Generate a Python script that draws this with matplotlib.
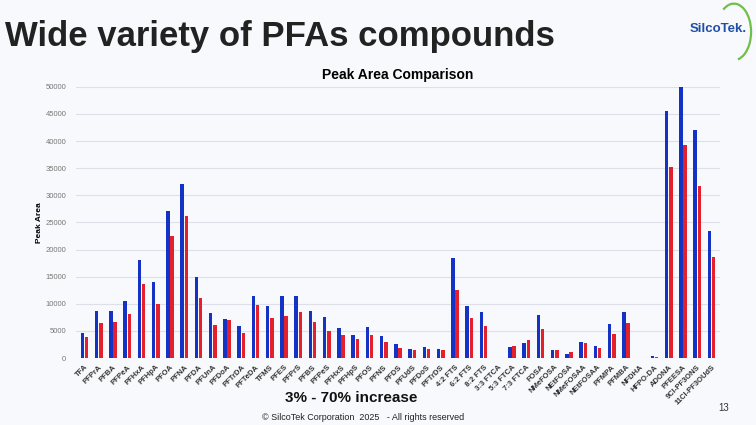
import matplotlib
matplotlib.use("Agg")
import matplotlib.pyplot as plt
import numpy as np
from matplotlib.patches import Arc

plt.rcParams["font.family"] = ["Liberation Sans", "DejaVu Sans"]

compounds = ["TFA", "PFPrA", "PFBA", "PFPeA", "PFHxA", "PFHpA", "PFOA", "PFNA", "PFDA",
             "PFUnA", "PFDoA", "PFTrDA", "PFTeDA", "TFMS", "PFES", "PFPrS", "PFBS", "PFPeS",
             "PFHxS", "PFHpS", "PFOS", "PFNS", "PFDS", "PFUdS", "PFDoS", "PFTrDS",
             "4:2 FTS", "6:2 FTS", "8:2 FTS", "3:3 FTCA", "5:3 FTCA", "7:3 FTCA", "FOSA",
             "NMeFOSA", "NEtFOSA", "NMeFOSAA", "NEtFOSAA", "PFMPA", "PFMBA", "NFDHA",
             "HFPO-DA", "ADONA", "PFEESA", "9Cl-PF3ONS", "11Cl-PF3OUdS"]
blue_vals = [4700, 8600, 8600, 10600, 18000, 14000, 27200, 32100, 15000,
             8300, 7200, 5900, 11400, 9600, 11400, 11400, 8600, 7500,
             5600, 4200, 5700, 4000, 2500, 1600, 2000, 1600,
             18400, 9600, 8400, 50, 2000, 2700, 7900,
             1400, 800, 2900, 2200, 6200, 8500, 30,
             400, 45500, 50000, 42100, 23500]
red_vals = [3900, 6400, 6600, 8200, 13700, 10000, 22500, 26200, 11100,
            6100, 7000, 4700, 9800, 7300, 7800, 8400, 6600, 5000,
            4300, 3500, 4300, 2900, 1900, 1400, 1700, 1500,
            12500, 7300, 5900, 30, 2300, 3300, 5400,
            1500, 1200, 2700, 1800, 4400, 6500, 20,
            200, 35300, 39200, 31700, 18700]
yticks = [0, 5000, 10000, 15000, 20000, 25000, 30000, 35000, 40000, 45000, 50000]

bg = "#f8f9fc"
fig = plt.figure(figsize=(7.56, 4.25), dpi=100, facecolor=bg)

# slide title
fig.text(0.006, 0.915, "Wide variety of PFAs compounds", fontsize=25, fontweight="bold",
         color="#222222", va="center", ha="left")

# logo (rough)
logo_ax = fig.add_axes([0.935, 0.855, 0.065, 0.14])
logo_ax.axis("off")
logo_ax.set_xlim(0, 1)
logo_ax.set_ylim(0, 1)
logo_ax.add_patch(Arc((0.55, 0.5), 0.7, 0.95, theta1=-80, theta2=120, color="#6fbf4a", lw=1.6))
fig.text(0.912, 0.932, "SilcoTek.", fontsize=9.5, fontweight="bold", color="#1f4fa8",
         va="center", ha="left")

ax = fig.add_axes([0.1005, 0.1576, 0.852, 0.638], facecolor=bg)
x = np.arange(len(compounds))
w = 0.24
ax.bar(x - 0.15, blue_vals, width=w, color="#1432c4", zorder=3)
ax.bar(x + 0.15, red_vals, width=w, color="#e3202c", zorder=3)

ax.set_xlim(-0.6, len(compounds) - 0.4)
ax.set_ylim(0, 50000)
ax.set_yticks(yticks)
ax.set_yticklabels([str(v) for v in yticks], fontsize=5.5, color="#777777")
ax.set_xticks(x)
ax.set_xticklabels(compounds, rotation=45, ha="right", rotation_mode="anchor",
                   fontsize=5.5, fontweight="bold", color="#333333")
ax.tick_params(axis="x", length=0, pad=4)
ax.tick_params(axis="y", length=0, pad=7)
ax.grid(axis="y", color="#dde0e8", lw=0.8, zorder=0)
for s in ax.spines.values():
    s.set_visible(False)
ax.set_ylabel("Peak Area", fontsize=6, fontweight="bold")
ax.yaxis.set_label_coords(-0.051, 0.5)
ax.set_title("Peak Area Comparison", fontsize=10, fontweight="bold", pad=6)

fig.text(0.464, 0.063, "3% - 70% increase", fontsize=11, fontweight="bold",
         ha="center", va="center", color="#111111")
fig.text(0.48, 0.018, "\u00a9 SilcoTek Corporation  2025   - All rights reserved", fontsize=6.5,
         ha="center", va="center", color="#222222")
fig.text(0.965, 0.04, "13", fontsize=7, ha="right", va="center", color="#333333")

fig.savefig("out.png", dpi=100, facecolor=bg)
